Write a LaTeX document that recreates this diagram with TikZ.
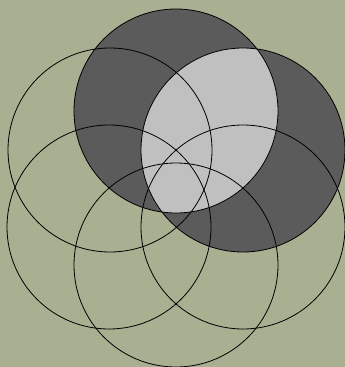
\documentclass[tikz,border=0pt]{standalone}
\definecolor{bg}{HTML}{A8B091}
\definecolor{darkfill}{HTML}{5B5B5B}
\definecolor{lightfill}{HTML}{C0C0C0}
\begin{document}
\begin{tikzpicture}[x=1pt,y=-1pt,
  ring/.style={draw=black,line width=0.8pt}]
\useasboundingbox (0,0) rectangle (345,367);
\fill[bg] (0,0) rectangle (345,367);
\def\R{102}
\coordinate (top) at (176,111);
\coordinate (ur) at (243,150);
\coordinate (lr) at (243,227);
\coordinate (bot) at (176,265);
\coordinate (ll) at (109,227);
\coordinate (ul) at (110,150);
\fill[darkfill] (top) circle (\R);
\fill[darkfill] (ur) circle (\R);
\begin{scope}
  \clip (top) circle (\R);
  \fill[lightfill] (ur) circle (\R);
\end{scope}
\foreach \c in {top,ur,lr,bot,ll,ul}
  \draw[ring] (\c) circle (\R);
\end{tikzpicture}
\end{document}
